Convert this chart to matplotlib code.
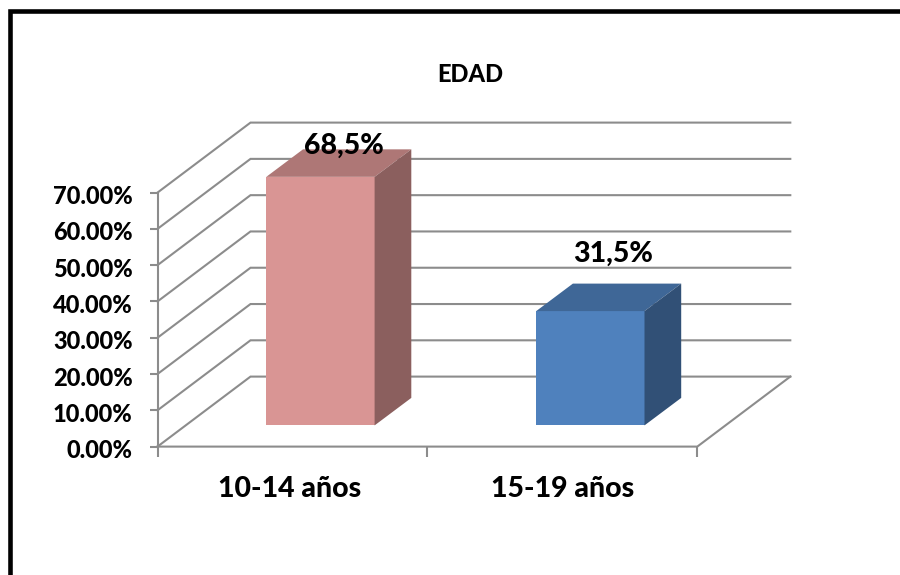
import matplotlib
matplotlib.use("Agg")
import matplotlib.pyplot as plt
from matplotlib.patches import Polygon, Rectangle
from matplotlib.transforms import ScaledTranslation

categories = ["10-14 años", "15-19 años"]
values = [68.5, 31.5]
value_labels = ["68,5%", "31,5%"]
bar_colors = ["#D99594", "#4F81BD"]
top_colors = ["#AE7776", "#3F6797"]
side_colors = ["#8B5F5E", "#315076"]
y_ticks = [0, 10, 20, 30, 40, 50, 60, 70]
y_labels = ["0.00%", "10.00%", "20.00%", "30.00%", "40.00%", "50.00%", "60.00%", "70.00%"]
title = "EDAD"

W, H = 900, 575
WEIGHT = 900
plt.rcParams["font.family"] = ["Lato", "Noto Sans", "DejaVu Sans"]
fig = plt.figure(figsize=(W / 100, H / 100), dpi=100, facecolor="white")

# Axes: front plane of the 3D chart
x0, x1 = 157.5, 697.3
y_zero, y_top = 446.6, 192.6
ax = fig.add_axes([x0 / W, 1 - y_zero / H, (x1 - x0) / W, (y_zero - y_top) / H])
ax.set_xlim(0, 2)
ax.set_ylim(0, 70)
ax.patch.set_visible(False)
for s in ax.spines.values():
    s.set_visible(False)

grid = "#8C8C8C"
lw = 1.5
ax.set_yticks(y_ticks, y_labels, fontsize=17, fontweight=WEIGHT, color="black")
ax.set_xticks([0, 1, 2], ["", "", ""])
ax.set_xticks([0.49, 1.5], categories, minor=True, fontsize=20.5, fontweight=WEIGHT, color="black")
ax.tick_params(axis="y", length=5.8, width=lw, color=grid, pad=12)
ax.tick_params(axis="x", which="major", length=7.2, width=lw, color=grid)
ax.tick_params(axis="x", which="minor", length=0, pad=21.5)
for lab in ax.get_yticklabels():
    lab.set_transform(lab.get_transform() + ScaledTranslation(0, -2 / 100, fig.dpi_scale_trans))

# depth offset in data units (full depth of the floor)
px_x = 2 / (x1 - x0)
px_y = 70 / (y_zero - y_top)
DX, DY = 93 * px_x, 70 * px_y

# gridlines: side wall and back wall
top = max(y_ticks)
for v in y_ticks:
    ax.plot([0, DX, 2 + DX], [v, v + DY, v + DY], color=grid, lw=lw, clip_on=False, zorder=1, solid_joinstyle="miter")
ax.plot([0, 0], [0, top], color=grid, lw=lw, clip_on=False, zorder=1)
ax.plot([0, 2, 2 + DX], [0, 0, DY], color=grid, lw=lw, clip_on=False, zorder=1, solid_joinstyle="miter")

# bars
bar_w = 108.3 * px_x
d0x, d0y = 28 * px_x, 21.2 * px_y
d1x, d1y = 36.7 * px_x, 27.5 * px_y
label_up = [31, 57]
for i, v in enumerate(values):
    left = i + 0.5 - bar_w / 2 + d0x
    right = left + bar_w
    b = d0y
    ax.add_patch(Rectangle((left, b), bar_w, v, facecolor=bar_colors[i], edgecolor="none", zorder=3, clip_on=False))
    ax.add_patch(Polygon([(left, b + v), (right, b + v), (right + d1x, b + v + d1y), (left + d1x, b + v + d1y)],
                         closed=True, facecolor=top_colors[i], edgecolor="none", zorder=3, clip_on=False))
    ax.add_patch(Polygon([(right, b), (right + d1x, b + d1y), (right + d1x, b + v + d1y), (right, b + v)],
                         closed=True, facecolor=side_colors[i], edgecolor="none", zorder=3, clip_on=False))
    ax.text(left + bar_w / 2 + 23 * px_x, b + v + label_up[i] * px_y, value_labels[i], ha="center", va="center",
            fontsize=20.5, fontweight=WEIGHT, color="black", zorder=5, clip_on=False)

fig.text(470 / W, 1 - 74 / H, title, ha="center", va="center", fontsize=17, fontweight=WEIGHT, color="black")

# outer border
fig.add_artist(Rectangle((10.3 / W, -0.05), (W + 50) / W, 1 - 11.2 / H + 0.05, transform=fig.transFigure,
                         facecolor="none", edgecolor="black", lw=3.3, clip_on=True))

fig.savefig("out.png", dpi=100, facecolor="white")
